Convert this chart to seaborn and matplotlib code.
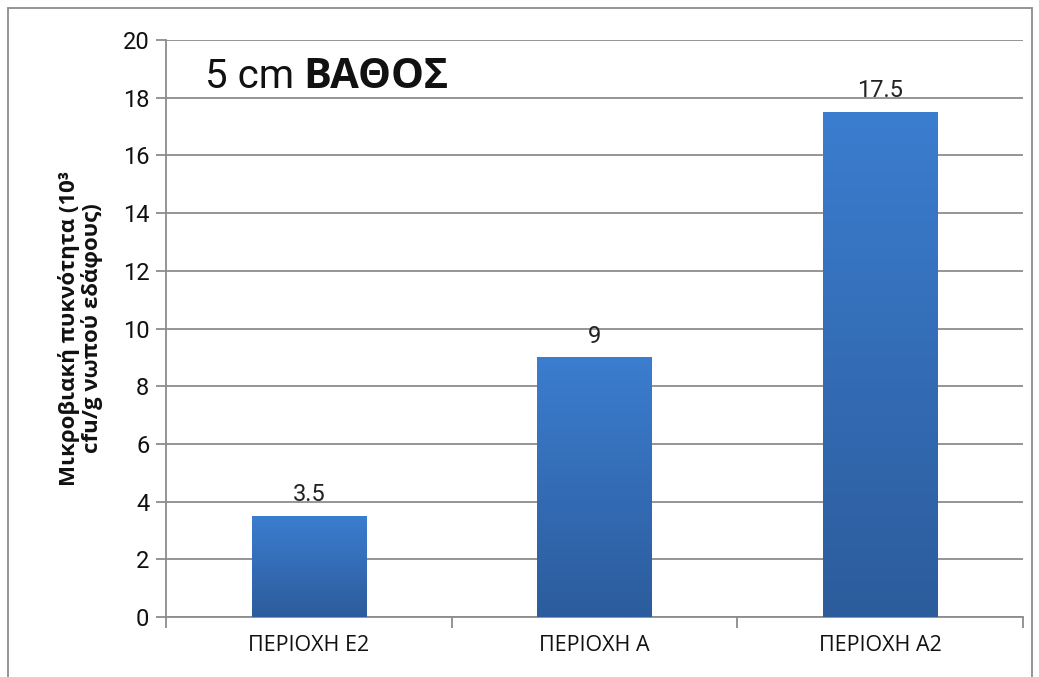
import matplotlib
matplotlib.use("Agg")
import matplotlib.pyplot as plt
import matplotlib.patches as mpatches
from matplotlib.colors import LinearSegmentedColormap
import numpy as np
import pandas as pd
import seaborn as sns

categories = ["ΠΕΡΙΟΧΗ Ε2", "ΠΕΡΙΟΧΗ Α", "ΠΕΡΙΟΧΗ Α2"]
values = [3.5, 9, 17.5]
value_labels = ["3.5", "9", "17.5"]
yticks = [0, 2, 4, 6, 8, 10, 12, 14, 16, 18, 20]

data = pd.DataFrame({"area": categories, "cfu": values})

sns.set_theme(style="white")
plt.rcParams["font.family"] = ["Roboto", "DejaVu Sans"]

fig = plt.figure(figsize=(10.39, 6.77), dpi=100)
ax = fig.add_axes([0.1598, 0.0886, 0.8248, 0.8523])

# outer chart frame
fig.patches.append(mpatches.Rectangle((8 / 1039, -0.05), 1024 / 1039, 1 - 8 / 677 + 0.05,
                                      transform=fig.transFigure, fill=False,
                                      edgecolor="#8c8c8c", linewidth=1.3))

sns.barplot(data=data, x="area", y="cfu", width=0.4, color="#3a78c8", ax=ax, zorder=3)

# vertical gradient on each bar
grad = LinearSegmentedColormap.from_list("bar", ["#2c5c9c", "#3b7dcf"])
for p in ax.patches:
    x0, y0 = p.get_x(), p.get_y()
    w, h = p.get_width(), p.get_height()
    im = ax.imshow(np.linspace(0, 1, 256).reshape(-1, 1), cmap=grad, origin="lower",
                   extent=[x0, x0 + w, y0, y0 + h], aspect="auto", zorder=4)
    im.set_clip_path(p)
    p.set_facecolor("none")
    p.set_edgecolor("none")

for i, (v, t) in enumerate(zip(values, value_labels)):
    ax.annotate(t, (i, v), xytext=(0, 7), textcoords="offset points", ha="center",
                va="bottom", fontsize=17, color="#222222", zorder=5)

ax.set_xlim(-0.5, 2.5)
ax.set_ylim(0, 20)
ax.set_yticks(yticks)
ax.yaxis.grid(True, color="#8c8c8c", linewidth=1.3)
ax.set_axisbelow(True)
for s in ["top", "right"]:
    ax.spines[s].set_visible(False)
for s in ["left", "bottom"]:
    ax.spines[s].set_color("#8c8c8c")
    ax.spines[s].set_linewidth(1.3)

ax.tick_params(axis="y", which="major", length=7, width=1.3, color="#8c8c8c",
               direction="out", left=True, labelsize=17, pad=5, labelcolor="#111111")
ax.tick_params(axis="x", which="major", length=0, labelsize=15.5, pad=13, labelcolor="#111111")
ax.set_xticks([-0.5, 0.5, 1.5, 2.5], minor=True)
ax.tick_params(axis="x", which="minor", length=8, width=1.3, color="#8c8c8c",
               direction="out", bottom=True)
for lab in ax.get_xticklabels():
    lab.set_fontfamily(["Open Sans", "DejaVu Sans"])

ax.set_xlabel("")
ax.set_ylabel("Μικροβιακή πυκνότητα (10³\ncfu/g νωπού εδάφους)", fontsize=16,
              fontweight="bold", labelpad=14, color="#111111",
              fontfamily=["Open Sans", "DejaVu Sans"], linespacing=1.05)

# title inside the plot: "5 cm" regular, "ΒΑΘΟΣ" bold
ax.text(0.045, 0.917, "5 cm", transform=ax.transAxes, fontsize=29, va="baseline",
        ha="left", color="#111111")
fig.canvas.draw()
t1 = ax.texts[-1]
bb = t1.get_window_extent().transformed(ax.transAxes.inverted())
ax.text(bb.x1 + 0.011, 0.917, "ΒΑΘΟΣ", transform=ax.transAxes, fontsize=30, va="baseline",
        ha="left", fontweight="bold", color="#111111",
        fontfamily=["Open Sans", "DejaVu Sans"])

fig.savefig("out.png", dpi=100)
